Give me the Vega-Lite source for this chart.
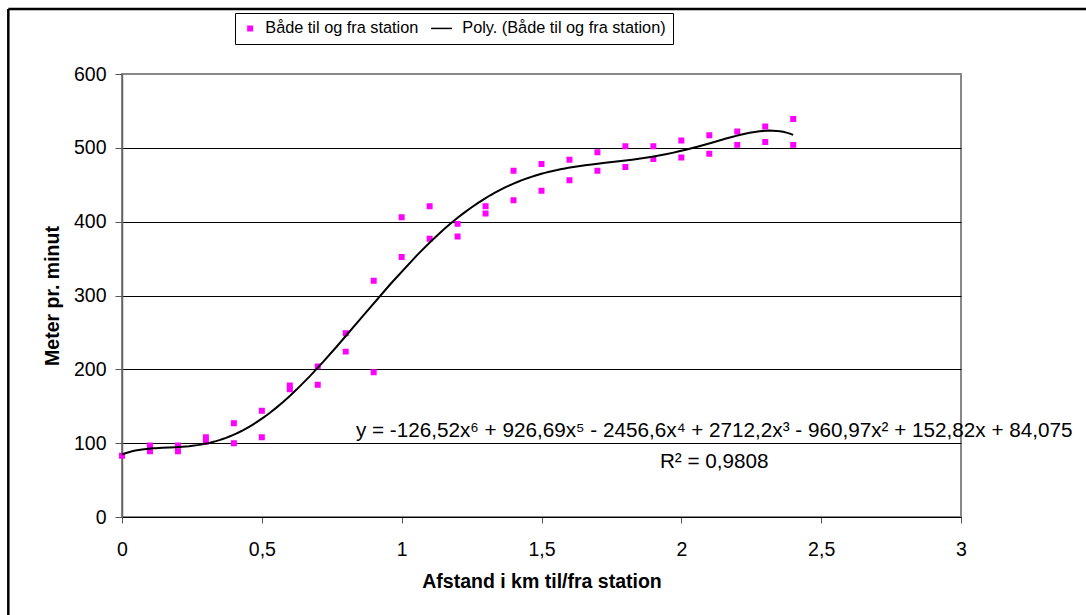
{
  "$schema": "https://vega.github.io/schema/vega-lite/v6.json",
  "width": 839,
  "height": 443,
  "autosize": "none",
  "padding": {"left": 122, "top": 74, "right": 125, "bottom": 98},
  "background": "white",
  "config": {
    "font": "Liberation Sans",
    "view": {"stroke": "#888888", "strokeWidth": 2},
    "axis": {"labelFont": "Liberation Sans", "titleFont": "Liberation Sans", "labelColor": "black", "titleColor": "black"}
  },
  "datasets": {
    "obs": [
      {"s": "Både til og fra station", "x": 0, "y": 83},
      {"s": "Både til og fra station", "x": 0.1, "y": 97}, {"s": "Både til og fra station", "x": 0.1, "y": 89},
      {"s": "Både til og fra station", "x": 0.2, "y": 97}, {"s": "Både til og fra station", "x": 0.2, "y": 89},
      {"s": "Både til og fra station", "x": 0.3, "y": 108}, {"s": "Både til og fra station", "x": 0.3, "y": 102},
      {"s": "Både til og fra station", "x": 0.4, "y": 127}, {"s": "Både til og fra station", "x": 0.4, "y": 100},
      {"s": "Både til og fra station", "x": 0.5, "y": 144}, {"s": "Både til og fra station", "x": 0.5, "y": 108},
      {"s": "Både til og fra station", "x": 0.6, "y": 178}, {"s": "Både til og fra station", "x": 0.6, "y": 173},
      {"s": "Både til og fra station", "x": 0.7, "y": 204}, {"s": "Både til og fra station", "x": 0.7, "y": 179},
      {"s": "Både til og fra station", "x": 0.8, "y": 249}, {"s": "Både til og fra station", "x": 0.8, "y": 224},
      {"s": "Både til og fra station", "x": 0.9, "y": 320}, {"s": "Både til og fra station", "x": 0.9, "y": 196},
      {"s": "Både til og fra station", "x": 1.0, "y": 406}, {"s": "Både til og fra station", "x": 1.0, "y": 352},
      {"s": "Både til og fra station", "x": 1.1, "y": 421}, {"s": "Både til og fra station", "x": 1.1, "y": 377},
      {"s": "Både til og fra station", "x": 1.2, "y": 397}, {"s": "Både til og fra station", "x": 1.2, "y": 380},
      {"s": "Både til og fra station", "x": 1.3, "y": 421}, {"s": "Både til og fra station", "x": 1.3, "y": 411},
      {"s": "Både til og fra station", "x": 1.4, "y": 469}, {"s": "Både til og fra station", "x": 1.4, "y": 429},
      {"s": "Både til og fra station", "x": 1.5, "y": 478}, {"s": "Både til og fra station", "x": 1.5, "y": 442},
      {"s": "Både til og fra station", "x": 1.6, "y": 484}, {"s": "Både til og fra station", "x": 1.6, "y": 456},
      {"s": "Både til og fra station", "x": 1.7, "y": 494}, {"s": "Både til og fra station", "x": 1.7, "y": 469},
      {"s": "Både til og fra station", "x": 1.8, "y": 502}, {"s": "Både til og fra station", "x": 1.8, "y": 474},
      {"s": "Både til og fra station", "x": 1.9, "y": 502}, {"s": "Både til og fra station", "x": 1.9, "y": 485},
      {"s": "Både til og fra station", "x": 2.0, "y": 510}, {"s": "Både til og fra station", "x": 2.0, "y": 487},
      {"s": "Både til og fra station", "x": 2.1, "y": 517}, {"s": "Både til og fra station", "x": 2.1, "y": 492},
      {"s": "Både til og fra station", "x": 2.2, "y": 522}, {"s": "Både til og fra station", "x": 2.2, "y": 504},
      {"s": "Både til og fra station", "x": 2.3, "y": 529}, {"s": "Både til og fra station", "x": 2.3, "y": 508},
      {"s": "Både til og fra station", "x": 2.4, "y": 539}, {"s": "Både til og fra station", "x": 2.4, "y": 504}
    ]
  },
  "layer": [
    {
      "data": {"values": [{}]},
      "mark": {"type": "rule", "color": "black", "strokeWidth": 2.5, "clip": false},
      "encoding": {
        "x": {"datum": -0.4065, "type": "quantitative", "scale": {"domain": [0, 3]}},
        "y": {"datum": 688, "type": "quantitative", "scale": {"domain": [0, 600]}},
        "y2": {"datum": -140}
      }
    },
    {
      "data": {"values": [{}]},
      "mark": {"type": "rule", "color": "black", "strokeWidth": 2.5, "clip": false},
      "encoding": {
        "x": {"datum": -0.4065, "type": "quantitative"},
        "x2": {"datum": 3.47},
        "y": {"datum": 688, "type": "quantitative"}
      }
    },
    {
      "data": {"name": "obs"},
      "mark": {"type": "point", "filled": true, "size": 20, "opacity": 1, "strokeWidth": 1.5},
      "encoding": {
        "x": {
          "field": "x", "type": "quantitative",
          "scale": {"domain": [0, 3], "nice": false, "zero": false},
          "axis": {
            "title": "Afstand i km til/fra station",
            "titleFontSize": 19.5, "titleFontWeight": "bold", "titlePadding": 14,
            "values": [0, 0.5, 1, 1.5, 2, 2.5, 3],
            "labelExpr": "replace(format(datum.value, '~g'), '.', ',')",
            "labelFontSize": 19.5, "labelPadding": 17, "labelFlush": false,
            "tickSize": 6, "tickColor": "#555555", "domainColor": "black", "domainWidth": 1.2,
            "grid": false
          }
        },
        "y": {
          "field": "y", "type": "quantitative",
          "scale": {"domain": [0, 600], "nice": false},
          "axis": {
            "title": "Meter pr. minut",
            "titleFontSize": 19.5, "titleFontWeight": "bold", "titlePadding": 11,
            "values": [0, 100, 200, 300, 400, 500, 600],
            "labelFontSize": 19.5, "labelPadding": 9, "labelFlush": false,
            "tickSize": 7, "tickColor": "#555555", "domainColor": "#666666", "domainWidth": 1.5,
            "grid": true, "gridWidth": 1.1,
            "gridColor": {"condition": {"test": "datum.value === 600", "value": "#888888"}, "value": "black"}
          }
        },
        "fill": {
          "field": "s", "type": "nominal",
          "scale": {"domain": ["Både til og fra station", "Poly. (Både til og fra station)"], "range": ["#FF00FF", "#000000"]},
          "legend": {
            "title": null, "orient": "none", "legendX": 113, "legendY": -61,
            "direction": "horizontal", "columns": 2,
            "strokeColor": "black", "padding": 7,
            "labelFont": "Liberation Sans", "labelFontSize": 16.3, "labelColor": "black", "labelLimit": 500,
            "symbolSize": 20, "symbolStrokeWidth": 1.5, "labelOffset": 7, "columnPadding": 9
          }
        },
        "stroke": {
          "field": "s", "type": "nominal",
          "scale": {"domain": ["Både til og fra station", "Poly. (Både til og fra station)"], "range": ["#FF00FF", "#000000"]}
        },
        "shape": {
          "field": "s", "type": "nominal",
          "scale": {"domain": ["Både til og fra station", "Poly. (Både til og fra station)"], "range": ["square", "M-7.2,0H2.2"]}
        }
      }
    },
    {
      "data": {"name": "obs"},
      "transform": [{"regression": "y", "on": "x", "method": "poly", "order": 6, "extent": [0, 2.4]}],
      "mark": {"type": "line", "color": "black", "strokeWidth": 2},
      "encoding": {
        "x": {"field": "x", "type": "quantitative"},
        "y": {"field": "y", "type": "quantitative"}
      }
    },
    {
      "data": {"values": [{}]},
      "mark": {"type": "text", "align": "center", "baseline": "alphabetic", "fontSize": 20.7, "font": "Liberation Sans", "color": "black", "clip": false},
      "encoding": {
        "x": {"datum": 2.1176, "type": "quantitative"},
        "y": {"datum": 108, "type": "quantitative"},
        "text": {"value": "y = -126,52x⁶ + 926,69x⁵ - 2456,6x⁴ + 2712,2x³ - 960,97x² + 152,82x + 84,075"}
      }
    },
    {
      "data": {"values": [{}]},
      "mark": {"type": "text", "align": "center", "baseline": "alphabetic", "fontSize": 20.7, "font": "Liberation Sans", "color": "black", "clip": false},
      "encoding": {
        "x": {"datum": 2.1176, "type": "quantitative"},
        "y": {"datum": 66, "type": "quantitative"},
        "text": {"value": "R² = 0,9808"}
      }
    }
  ]
}
